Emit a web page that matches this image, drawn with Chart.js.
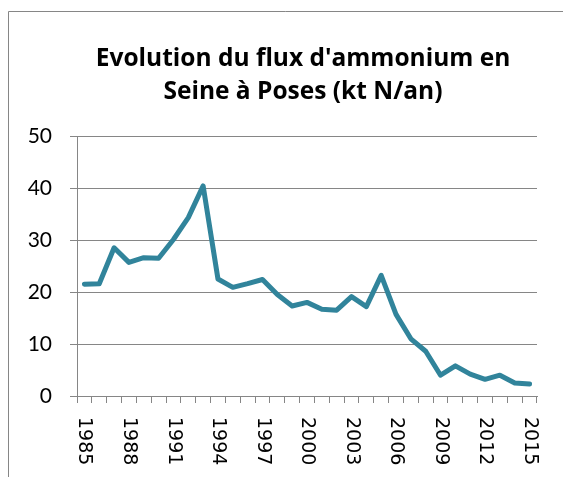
<!DOCTYPE html>
<html>
<head>
<meta charset="utf-8">
<script src="https://cdn.jsdelivr.net/npm/chart.js@4/dist/chart.umd.min.js"></script>
<style>
  html, body { margin: 0; padding: 0; background: #fff; }
  canvas { display: block; }
</style>
</head>
<body>
<canvas id="graphique" width="563" height="477"></canvas>
<script>
const titre = ["Evolution du flux d'ammonium en", "Seine à Poses (kt N/an)"];
const annees = ["1985", "1986", "1987", "1988", "1989", "1990", "1991", "1992", "1993", "1994",
    "1995", "1996", "1997", "1998", "1999", "2000", "2001", "2002", "2003", "2004",
    "2005", "2006", "2007", "2008", "2009", "2010", "2011", "2012", "2013", "2014", "2015"];
const fluxAmmonium = [21.5, 21.6, 28.5, 25.7, 26.6, 26.5, 30.1, 34.3, 40.4, 22.5,
    20.9, 21.6, 22.4, 19.5, 17.3, 18.0, 16.7, 16.5, 19.1, 17.2,
    23.2, 15.7, 11.0, 8.6, 4.0, 5.8, 4.2, 3.2, 4.0, 2.5, 2.3];
const etiquettesX = ["1985", "1988", "1991", "1994", "1997", "2000", "2003", "2006", "2009", "2012", "2015"];
const graduationsY = [0, 10, 20, 30, 40, 50];

const gris = "#868686";

const decor = {
    id: "decor",
    beforeDraw(chart) {
        const c = chart.ctx;
        c.save();
        c.fillStyle = "#fff";
        c.fillRect(0, 0, chart.width, chart.height);
        c.strokeStyle = gris;
        c.lineWidth = 1;
        c.beginPath();
        c.moveTo(8.5, chart.height);
        c.lineTo(8.5, 11.5);
        c.lineTo(chart.width, 11.5);
        c.stroke();
        c.restore();
    },
    afterDraw(chart) {
        const c = chart.ctx;
        const area = chart.chartArea;
        c.save();
        // titre
        c.fillStyle = "#000";
        c.font = "bold 24.5px 'Open Sans'";
        c.textAlign = "center";
        c.textBaseline = "alphabetic";
        const cx = (area.left + area.right) / 2 - 4;
        c.fillText(titre[0], cx, 66);
        c.fillText(titre[1], cx, 99);
        // années en vertical
        const xScale = chart.scales.x;
        c.font = "19px 'DejaVu Sans'";
        c.textAlign = "left";
        c.textBaseline = "middle";
        etiquettesX.forEach(annee => {
            const x = xScale.getPixelForValue(annees.indexOf(annee));
            c.save();
            c.translate(x, area.bottom + 21);
            c.rotate(Math.PI / 2);
            c.fillText(annee, 0, 0);
            c.restore();
        });
        c.restore();
    }
};

new Chart(document.getElementById("graphique").getContext("2d"), {
    type: "line",
    data: {
        labels: annees,
        datasets: [{
            label: "Flux d'ammonium (kt N/an)",
            data: fluxAmmonium,
            borderColor: "#31849B",
            backgroundColor: "#31849B",
            borderWidth: 5,
            borderJoinStyle: "round",
            borderCapStyle: "round",
            pointRadius: 0,
            tension: 0,
            fill: false
        }]
    },
    options: {
        responsive: false,
        animation: false,
        devicePixelRatio: 1,
        layout: { padding: { top: 136, right: 26, left: 0, bottom: 0 } },
        plugins: {
            legend: { display: false },
            title: { display: false },
            tooltip: { enabled: false }
        },
        scales: {
            x: {
                type: "category",
                offset: true,
                afterFit: scale => { scale.height = 81; },
                grid: { offset: true, drawOnChartArea: false, color: gris, tickLength: 7 },
                border: { display: true, color: gris, width: 1 },
                ticks: { display: false }
            },
            y: {
                min: 0,
                max: 50,
                afterFit: scale => { scale.width = 77; },
                afterBuildTicks: scale => { scale.ticks = graduationsY.map(v => ({ value: v })); },
                grid: { color: gris, lineWidth: 1, tickLength: 7 },
                border: { display: true, color: gris, width: 1 },
                ticks: {
                    color: "#000",
                    padding: 18,
                    font: { family: "Lato", size: 21 }
                }
            }
        }
    },
    plugins: [decor]
});
</script>
</body>
</html>
